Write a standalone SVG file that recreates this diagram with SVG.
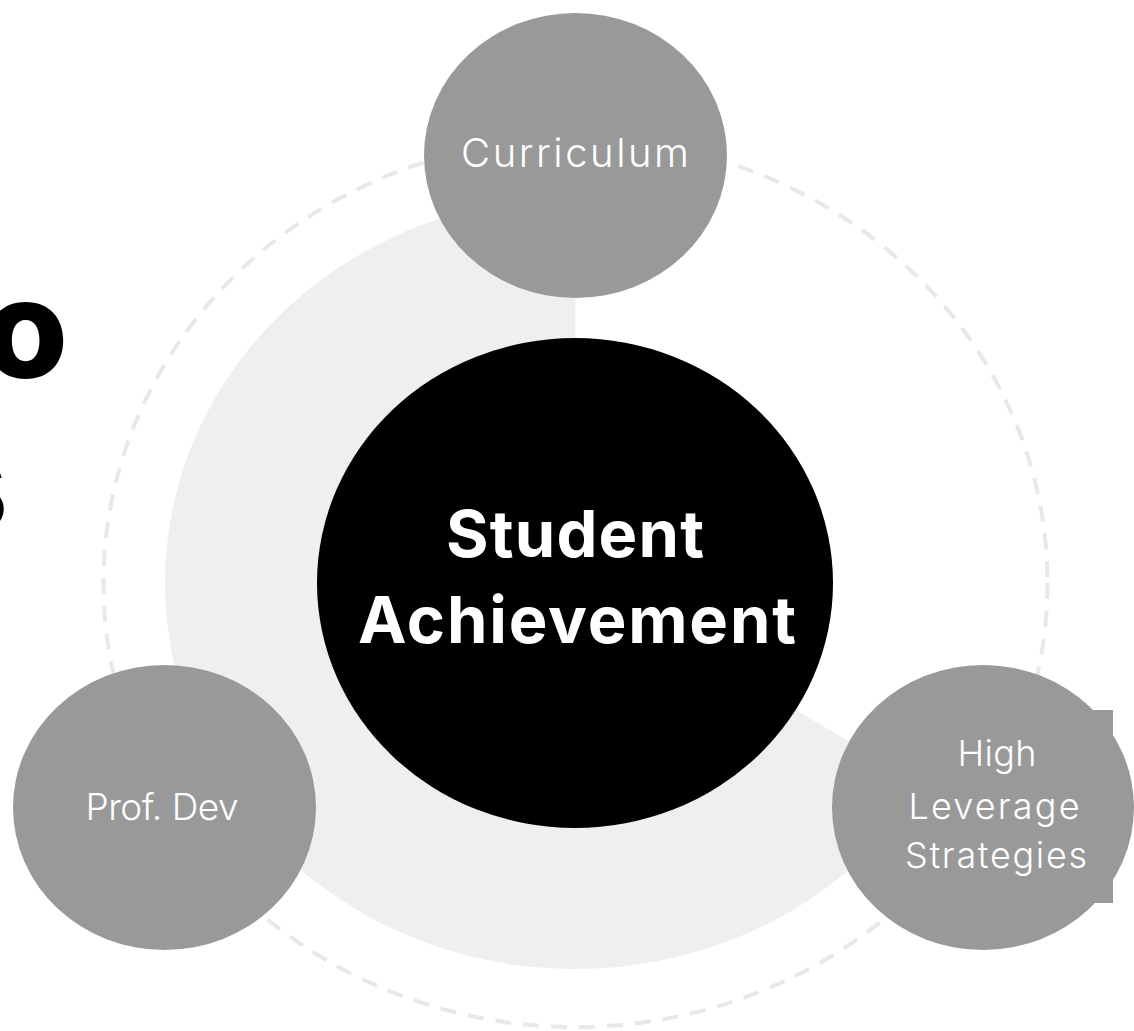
<svg xmlns="http://www.w3.org/2000/svg" width="1134" height="1031" viewBox="0 0 1134 1031">
  <style>
    .node { fill: #999999; }
    .lbl { font-family: Inter, "Open Sans", "Liberation Sans", sans-serif; font-weight: 300; fill: #ffffff; text-anchor: middle; }
    .title { font-family: Inter, "Liberation Sans", sans-serif; font-weight: 800; fill: #000000; text-anchor: end; font-size: 137px; }
    .center { font-family: Inter, "Liberation Sans", sans-serif; font-weight: 700; fill: #ffffff; text-anchor: middle; font-size: 65px; }
  </style>
  <rect width="1134" height="1031" fill="#ffffff"/>
  <g id="background">
    <ellipse cx="575.5" cy="583" rx="472" ry="444" fill="none" stroke="#e8e8e8" stroke-width="4" stroke-dasharray="16 12"/>
    <path d="M575.5,583 L575.5,197 A410,386 0 1 0 924.5,784.8 Z" fill="#efefef"/>
  </g>
  <g id="heading">
    <text class="title" x="68" y="378">o</text>
    <text class="title" x="8" y="533">s</text>
  </g>
  <g id="connectors"></g>
  <g id="node-center">
    <ellipse cx="575" cy="583" rx="258" ry="245" fill="#000000"/>
    <text class="center" x="575" y="557" textLength="258" lengthAdjust="spacing">Student</text>
    <text class="center" x="577" y="643" textLength="438" lengthAdjust="spacing">Achievement</text>
  </g>
  <g id="node-curriculum">
    <ellipse class="node" cx="575.5" cy="155.5" rx="151.5" ry="142.5"/>
    <text class="lbl" x="575" y="167" font-size="40" textLength="228" lengthAdjust="spacing">Curriculum</text>
  </g>
  <g id="node-profdev">
    <ellipse class="node" cx="164.5" cy="807.5" rx="151.5" ry="142.5"/>
    <text class="lbl" x="162" y="820" font-size="37" textLength="153" lengthAdjust="spacing">Prof. Dev</text>
  </g>
  <g id="node-hls">
    <rect class="node" x="1090" y="710" width="23" height="193"/>
    <ellipse class="node" cx="983" cy="807.5" rx="151" ry="142.5"/>
    <text class="lbl" x="997" y="766" font-size="36" textLength="79" lengthAdjust="spacing">High</text>
    <text class="lbl" x="994" y="819" font-size="36" textLength="171" lengthAdjust="spacing">Leverage</text>
    <text class="lbl" x="996" y="868" font-size="36" textLength="182" lengthAdjust="spacing">Strategies</text>
  </g>
</svg>
